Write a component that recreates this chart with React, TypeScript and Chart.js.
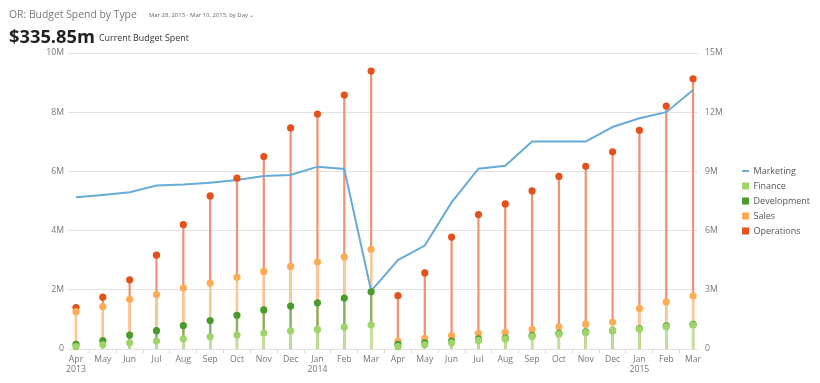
import React, { useEffect, useLayoutEffect, useRef, useState } from "react";
import { Chart, registerables } from "chart.js";

Chart.register(...registerables);

const categories: (string | string[])[] = [
  ["Apr", "2013"], "May", "Jun", "Jul", "Aug", "Sep", "Oct", "Nov", "Dec", ["Jan", "2014"], "Feb", "Mar",
  "Apr", "May", "Jun", "Jul", "Aug", "Sep", "Oct", "Nov", "Dec", ["Jan", "2015"], "Feb", "Mar",
];

// values in millions
const marketing = [7.69, 7.8, 7.94, 8.29, 8.33, 8.43, 8.56, 8.77, 8.82, 9.24, 9.12, 2.95, 4.51, 5.24, 7.43, 9.14, 9.29, 10.51, 10.51, 10.51, 11.25, 11.69, 12.0, 13.12];
const finance = [0.08, 0.14, 0.21, 0.27, 0.34, 0.41, 0.47, 0.54, 0.61, 0.66, 0.74, 0.81, 0.08, 0.14, 0.21, 0.29, 0.34, 0.42, 0.5, 0.55, 0.62, 0.67, 0.75, 0.81];
const development = [0.16, 0.28, 0.47, 0.62, 0.79, 0.96, 1.14, 1.32, 1.45, 1.56, 1.72, 1.93, 0.16, 0.21, 0.27, 0.34, 0.37, 0.45, 0.53, 0.58, 0.62, 0.69, 0.78, 0.83];
const sales = [1.26, 1.43, 1.68, 1.84, 2.06, 2.23, 2.42, 2.62, 2.79, 2.94, 3.11, 3.37, 0.27, 0.36, 0.45, 0.53, 0.56, 0.66, 0.75, 0.84, 0.91, 1.37, 1.59, 1.79];
const operations = [1.4, 1.75, 2.34, 3.17, 4.2, 5.17, 5.77, 6.5, 7.47, 7.94, 8.58, 9.39, 1.8, 2.57, 3.78, 4.54, 4.9, 5.34, 5.83, 6.17, 6.66, 7.39, 8.21, 9.13];

const leftTicksMax = 10;
const rightTicksMax = 15;

const FONT = '"Open Sans", sans-serif';

const COLORS = {
  marketing: "#68abd6",
  finance: "#9fd46a",
  development: "#4b9a2c",
  sales: "#fdab55",
  operations: "#e5501c",
};
const STEMS = {
  finance: "#bfe39a",
  development: "#80b866",
  sales: "#fdc88f",
  operations: "#ee9474",
};

function FitText(props: { text: string; x: number; baseline: number; width: number; size: number; color: string; weight?: number }) {
  const ref = useRef<HTMLDivElement>(null);
  const [size, setSize] = useState(props.size);
  useLayoutEffect(() => {
    const el = ref.current;
    if (!el) return;
    const w = el.getBoundingClientRect().width;
    if (w > 0) setSize((props.size * props.width) / w);
    // eslint-disable-next-line
  }, []);
  return (
    <div
      ref={ref}
      style={{
        position: "absolute",
        left: props.x,
        top: props.baseline - 0.888 * size,
        fontSize: size,
        lineHeight: 1,
        color: props.color,
        fontWeight: props.weight ?? 400,
        whiteSpace: "nowrap",
        fontFamily: FONT,
        display: "inline-block",
      }}
    >
      {props.text}
    </div>
  );
}

export default function App() {
  const ref = useRef<HTMLCanvasElement>(null);

  useEffect(() => {
    const stem = (label: string, data: number[], color: string, order: number) => ({
      type: "bar" as const,
      label,
      data,
      backgroundColor: color,
      barThickness: 1.6,
      grouped: false,
      yAxisID: "y",
      order,
      clip: false as any,
    });
    const pts = (label: string, data: number[], color: string, order: number) => ({
      type: "line" as const,
      label,
      data,
      showLine: false,
      pointRadius: 3.6,
      pointHoverRadius: 3.6,
      pointBackgroundColor: color,
      pointBorderColor: color,
      pointBorderWidth: 0,
      backgroundColor: color,
      borderColor: color,
      yAxisID: "y",
      order,
      clip: false as any,
    });

    const datasets: any[] = [
      {
        type: "line",
        label: "Marketing",
        data: marketing,
        borderColor: COLORS.marketing,
        backgroundColor: COLORS.marketing,
        borderWidth: 2,
        pointRadius: 0,
        tension: 0,
        yAxisID: "y1",
        order: 5,
        clip: false,
      },
      pts("Finance", finance, COLORS.finance, 0),
      pts("Development", development, COLORS.development, 1),
      pts("Sales", sales, COLORS.sales, 2),
      pts("Operations", operations, COLORS.operations, 3),
      stem("Finance stem", finance, STEMS.finance, 6),
      stem("Development stem", development, STEMS.development, 7),
      stem("Sales stem", sales, STEMS.sales, 8),
      stem("Operations stem", operations, STEMS.operations, 9),
    ];

    const chart = new Chart(ref.current!, {
      type: "bar",
      data: { labels: categories as any, datasets },
      options: {
        animation: false,
        responsive: true,
        maintainAspectRatio: false,
        layout: { padding: { top: 53, bottom: 0, left: 0, right: 0 } },
        plugins: {
          tooltip: { enabled: false },
          legend: {
            position: "right",
            align: "center",
            fullSize: false,
            labels: {
              usePointStyle: true,
              pointStyleWidth: 7,
              boxWidth: 7,
              boxHeight: 7,
              padding: 6,
              color: "#555",
              font: { family: FONT, size: 9 },
              generateLabels: (c: any) =>
                [0, 1, 2, 3, 4].map((i) => {
                  const ds = c.data.datasets[i];
                  return {
                    text: ds.label,
                    fillStyle: ds.borderColor,
                    strokeStyle: ds.borderColor,
                    fontColor: "#555",
                    lineWidth: i === 0 ? 2 : 0,
                    pointStyle: i === 0 ? "line" : "rect",
                    hidden: !c.isDatasetVisible(i),
                    datasetIndex: i,
                  };
                }),
            },
          },
        },
        scales: {
          x: {
            type: "category",
            offset: false,
            grid: { display: true, drawOnChartArea: false, drawTicks: true, tickLength: 4, color: "#d6d6d6" },
            border: { display: false },
            ticks: {
              color: "#777",
              font: { family: FONT, size: 8.7 },
              padding: 1,
              maxRotation: 0,
              autoSkip: false,
            },
            afterFit: (s: any) => {
              s.height = 34;
            },
          },
          y: {
            position: "left",
            min: 0,
            max: leftTicksMax,
            grid: { color: "#e2e2e2", tickLength: 8, lineWidth: 1 },
            border: { display: false },
            ticks: {
              stepSize: 2,
              color: "#777",
              font: { family: FONT, size: 8.7 },
              padding: 4,
              callback: (v: any) => (v === 0 ? "0" : v + "M"),
            },
            afterFit: (s: any) => {
              s.width = 76;
            },
          },
          y1: {
            position: "right",
            min: 0,
            max: rightTicksMax,
            grid: { drawOnChartArea: false, color: "#e2e2e2", tickLength: 5 },
            border: { display: false },
            ticks: {
              stepSize: 3,
              color: "#777",
              font: { family: FONT, size: 8.7 },
              padding: 7,
              callback: (v: any) => (v === 0 ? "0" : v + "M"),
            },
            afterFit: (s: any) => {
              s.width = 43;
            },
          },
        },
      } as any,
    });
    return () => chart.destroy();
  }, []);

  return (
    <div style={{ position: "absolute", left: 0, top: 0, width: 820, height: 383, fontFamily: FONT, background: "#fff" }}>
      <div style={{ position: "absolute", left: 0, top: 0, width: 820, height: 383 }}>
        <canvas ref={ref} />
      </div>
      <FitText text="OR: Budget Spend by Type" x={9} baseline={18.7} width={128} size={10.5} color="#777" />
      <FitText text="Mar 28, 2013 - Mar 10, 2015, by Day ⌄" x={149} baseline={18.5} width={106} size={6.5} color="#666" />
      <FitText text="$335.85m" x={9} baseline={43} width={86} size={18.5} color="#222" weight={700} />
      <FitText text="Current Budget Spent" x={99} baseline={42} width={90} size={9} color="#333" />
    </div>
  );
}
